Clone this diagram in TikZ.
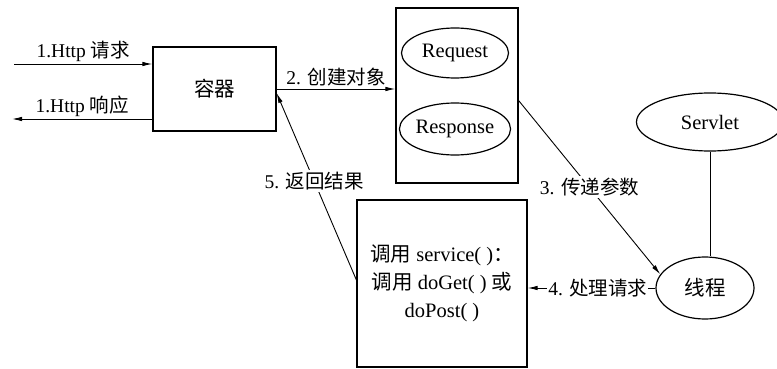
\documentclass[tikz,border=0pt]{standalone}
\usepackage{fontspec}
\setmainfont{Liberation Serif}
\newfontfamily\cjk{Noto Sans CJK SC}
\usetikzlibrary{arrows.meta,shapes.geometric}
\begin{document}
\begin{tikzpicture}[x=1pt,y=-1pt,
  every node/.style={font=\fontsize{20.5}{28}\selectfont},
  box/.style={draw,line width=1.2pt,rectangle,inner sep=0pt},
  oval/.style={draw,line width=1.2pt,ellipse,inner sep=0pt},
  conn/.style={line width=0.9pt},
  arr/.style={conn,-{Latex[length=10pt,width=4.5pt]}},
  lbl/.style={fill=white,inner sep=2pt,font=\fontsize{19.5}{22}\selectfont}]
\useasboundingbox (0,0) rectangle (777,369);
\node[box,minimum width=123pt,minimum height=84pt] (cont) at (214.5,89) {\cjk 容器};
\node[box,minimum width=122pt,minimum height=175pt] (rr) at (457,95.5) {};
\node[oval,minimum width=107pt,minimum height=50pt] (req) at (455,53) {Request};
\node[oval,minimum width=107pt,minimum height=52pt] (resp) at (455,129) {Response};
\node[oval,minimum width=147pt,minimum height=58pt] (servlet) at (710,122) {Servlet};
\node[oval,minimum width=98pt,minimum height=62pt] (thread) at (705,288) {\cjk 线程};
\node[box,minimum width=170pt,minimum height=167pt,align=center] (svc) at (442,283.5)
  {{\cjk 调用} service( ){\cjk ：}\\{\cjk 调用} doGet( ) {\cjk 或}\\doPost( )};
\coordinate (inL) at (14,64);
\coordinate (outL) at (12,119);
\draw[arr] (inL) -- node[midway,above,lbl,fill=none] {1.Http {\cjk 请求}} (inL -| cont.west);
\draw[arr] (outL -| cont.west) -- node[midway,above,lbl,fill=none] {1.Http {\cjk 响应}} (outL);
\draw[arr] (cont.east) -- node[midway,above,lbl,fill=none] {2. {\cjk 创建对象}} (cont.east -| rr.west);
\draw[arr] ([yshift=-5pt]rr.east) -- node[pos=0.5,lbl] {3. {\cjk 传递参数}} (thread.163);
\draw[arr] (thread.west) -- node[pos=0.45,lbl,inner sep=1pt] {4. {\cjk 处理请求}} (thread.west -| svc.east);
\draw[arr] ([yshift=3.5pt]svc.west) -- node[pos=0.53,lbl] {5. {\cjk 返回结果}} ([yshift=-4pt]cont.east);
\draw[conn] (servlet.south) -- (thread.north -| servlet.south);
\end{tikzpicture}
\end{document}
